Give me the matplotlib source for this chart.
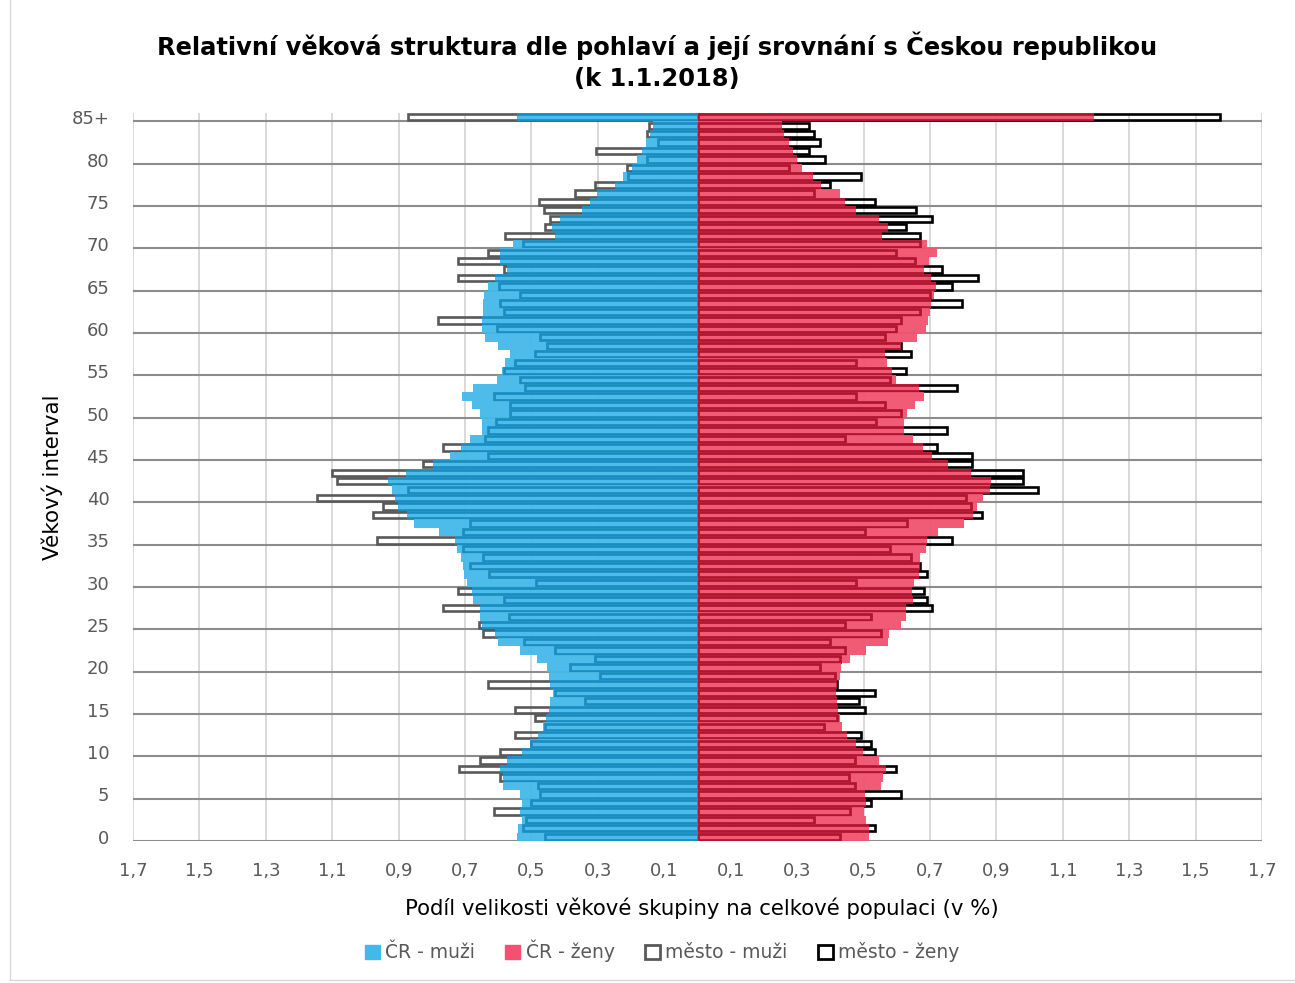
import matplotlib.pyplot as plt
from matplotlib.patches import Patch, Rectangle

# věk 0 .. 85+
ages = list(range(86))
age_ticks = list(range(0, 86, 5))
age_labels = [str(a) for a in age_ticks[:-1]] + ['85+']

cr_muzi = [0.545, 0.54, 0.53, 0.535, 0.53, 0.535, 0.585, 0.585, 0.595, 0.575,
           0.53, 0.505, 0.48, 0.464, 0.456, 0.446, 0.444, 0.434, 0.444, 0.446,
           0.454, 0.482, 0.535, 0.60, 0.61, 0.65, 0.655, 0.655, 0.677, 0.68,
           0.695, 0.702, 0.707, 0.713, 0.725, 0.730, 0.778, 0.853, 0.876, 0.901,
           0.911, 0.921, 0.931, 0.878, 0.796, 0.745, 0.712, 0.685, 0.65, 0.65,
           0.655, 0.68, 0.708, 0.677, 0.605, 0.588, 0.58, 0.565, 0.60, 0.64,
           0.65, 0.65, 0.645, 0.645, 0.643, 0.63, 0.61, 0.575, 0.595, 0.595,
           0.555, 0.43, 0.438, 0.414, 0.349, 0.324, 0.304, 0.248, 0.225, 0.198,
           0.182, 0.168, 0.156, 0.143, 0.134, 0.545]

cr_zeny = [0.517, 0.515, 0.506, 0.501, 0.506, 0.504, 0.553, 0.558, 0.568, 0.548,
           0.498, 0.476, 0.45, 0.434, 0.429, 0.422, 0.419, 0.417, 0.419, 0.429,
           0.432, 0.46, 0.508, 0.573, 0.578, 0.614, 0.628, 0.628, 0.65, 0.645,
           0.653, 0.668, 0.671, 0.669, 0.688, 0.691, 0.724, 0.802, 0.83, 0.841,
           0.861, 0.882, 0.885, 0.823, 0.753, 0.707, 0.679, 0.65, 0.623, 0.623,
           0.632, 0.655, 0.683, 0.666, 0.597, 0.587, 0.571, 0.566, 0.614, 0.66,
           0.689, 0.695, 0.699, 0.702, 0.712, 0.717, 0.702, 0.681, 0.697, 0.720,
           0.691, 0.556, 0.573, 0.548, 0.476, 0.445, 0.429, 0.373, 0.347, 0.316,
           0.301, 0.287, 0.275, 0.26, 0.255, 1.193]

mesto_muzi = [0.459, 0.527, 0.515, 0.613, 0.50, 0.474, 0.48, 0.595, 0.717, 0.655,
              0.595, 0.50, 0.55, 0.46, 0.49, 0.55, 0.339, 0.43, 0.63, 0.294,
              0.384, 0.309, 0.43, 0.523, 0.645, 0.658, 0.567, 0.766, 0.583, 0.72,
              0.486, 0.627, 0.685, 0.647, 0.707, 0.964, 0.705, 0.685, 0.978, 0.946,
              1.147, 0.871, 1.087, 1.10, 0.826, 0.63, 0.766, 0.64, 0.63, 0.607,
              0.565, 0.565, 0.612, 0.52, 0.535, 0.583, 0.55, 0.49, 0.454, 0.474,
              0.605, 0.78, 0.583, 0.595, 0.535, 0.597, 0.72, 0.583, 0.72, 0.63,
              0.527, 0.58, 0.459, 0.444, 0.462, 0.477, 0.369, 0.309, 0.209, 0.213,
              0.153, 0.307, 0.119, 0.153, 0.145, 0.872]

mesto_zeny = [0.429, 0.535, 0.352, 0.46, 0.522, 0.614, 0.474, 0.455, 0.599, 0.474,
              0.535, 0.522, 0.491, 0.381, 0.42, 0.503, 0.486, 0.535, 0.42, 0.414,
              0.368, 0.429, 0.445, 0.398, 0.553, 0.445, 0.522, 0.706, 0.69, 0.683,
              0.476, 0.691, 0.671, 0.642, 0.58, 0.766, 0.503, 0.63, 0.856, 0.823,
              0.81, 1.025, 0.981, 0.981, 0.827, 0.827, 0.72, 0.445, 0.751, 0.537,
              0.612, 0.565, 0.476, 0.782, 0.58, 0.628, 0.476, 0.642, 0.614, 0.566,
              0.597, 0.612, 0.671, 0.797, 0.70, 0.766, 0.844, 0.735, 0.655, 0.597,
              0.671, 0.671, 0.628, 0.705, 0.659, 0.534, 0.352, 0.398, 0.491, 0.275,
              0.383, 0.337, 0.368, 0.352, 0.337, 1.575]

x_ticks = [-1.7, -1.5, -1.3, -1.1, -0.9, -0.7, -0.5, -0.3, -0.1,
           0.1, 0.3, 0.5, 0.7, 0.9, 1.1, 1.3, 1.5, 1.7]
x_labels = [f"{abs(t):.1f}".replace('.', ',') for t in x_ticks]

blue = '#43B9E9'
red = '#F2526F'
dark_blue = '#1A8CC0'
dark_red = '#B0142F'
gray = '#595959'

fig = plt.figure(figsize=(12.95, 9.83), dpi=100)
ax = fig.add_axes([133 / 1295, 1 - 841 / 983, 1129 / 1295, 728 / 983])
ax.set_xlim(-1.7, 1.7)
ax.set_ylim(-0.5, 85.5)

for t in x_ticks:
    ax.axvline(t, color='#D9D9D9', lw=1.4, zorder=0)
for a in age_ticks:
    ax.axhline(a - 0.5, color='#8C8C8C', lw=1.5, zorder=1)

neg_mm = [-v for v in mesto_muzi]
neg_cm = [-v for v in cr_muzi]

# obrysy (mesto)
ax.barh(ages, neg_mm, height=0.74, facecolor='none', edgecolor=gray, lw=1.9, zorder=2)
ax.barh(ages, mesto_zeny, height=0.74, facecolor='none', edgecolor='black', lw=1.9, zorder=2)

# CR
bm = ax.barh(ages, neg_cm, height=1.0, color=blue, alpha=0.95, lw=0, zorder=3)
bz = ax.barh(ages, cr_zeny, height=1.0, color=red, alpha=0.95, lw=0, zorder=3)

# obrysy prosvitajici pres CR sloupce
om = ax.barh(ages, neg_mm, height=0.74, facecolor='none', edgecolor=dark_blue, lw=1.9, zorder=4)
oz = ax.barh(ages, mesto_zeny, height=0.74, facecolor='none', edgecolor=dark_red, lw=1.9, zorder=4)
for o, b in zip(om.patches, bm.patches):
    o.set_clip_path(b)
for o, b in zip(oz.patches, bz.patches):
    o.set_clip_path(b)

for s in ax.spines.values():
    s.set_visible(False)

ax.set_xticks(x_ticks)
ax.set_xticklabels(x_labels)
ax.set_yticks(age_ticks)
ax.set_yticklabels(age_labels)
ax.tick_params(axis='both', length=0, labelsize=13, labelcolor=gray)
ax.tick_params(axis='x', pad=15)
ax.tick_params(axis='y', pad=17)

fig.text(657 / 1295, 1 - 46 / 983, 'Relativní věková struktura dle pohlaví a její srovnání s Českou republikou',
         ha='center', va='center', fontsize=17.4, fontweight='bold')
fig.text(657 / 1295, 1 - 79 / 983, '(k 1.1.2018)',
         ha='center', va='center', fontsize=17.4, fontweight='bold')
fig.text(702 / 1295, 1 - 908 / 983, 'Podíl velikosti věkové skupiny na celkové populaci (v %)',
         ha='center', va='center', fontsize=15.3)
fig.text(52 / 1295, 1 - 477 / 983, 'Věkový interval', rotation=90,
         ha='center', va='center', fontsize=15.5)

handles = [Patch(facecolor=blue, edgecolor=blue),
           Patch(facecolor=red, edgecolor=red),
           Patch(facecolor='white', edgecolor=gray, lw=2),
           Patch(facecolor='white', edgecolor='black', lw=2)]
fig.legend(handles, ['ČR - muži', 'ČR - ženy', 'město - muži', 'město - ženy'],
           loc='center', bbox_to_anchor=(662 / 1295, 1 - 951 / 983), ncol=4,
           frameon=False, fontsize=13.5, handlelength=0.8, handleheight=0.8,
           handletextpad=0.3, columnspacing=1.6, labelcolor=gray)

fig.add_artist(Rectangle((10 / 1295, 3 / 983), 1.2, 1.2, transform=fig.transFigure,
                         facecolor='none', edgecolor='#D9D9D9', lw=1))

fig.savefig('out.png', dpi=100)
